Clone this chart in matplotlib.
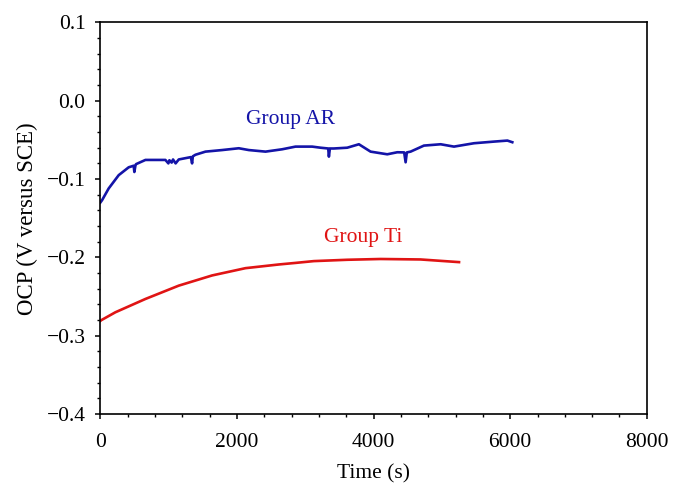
import matplotlib
matplotlib.use("Agg")
import matplotlib.pyplot as plt
from matplotlib.ticker import MultipleLocator, FuncFormatter

# Group AR (blue)
ar_time = [0, 25, 122, 269, 415, 488, 498, 513, 522, 660, 952, 996, 1011, 1044, 1064,
           1102, 1148, 1325, 1343, 1354, 1392, 1539, 1782, 2027, 2174, 2418, 2662,
           2857, 3101, 3223, 3336, 3346, 3360, 3418, 3614, 3785, 3956, 4200, 4347,
           4448, 4469, 4487, 4542, 4737, 4982, 5177, 5470, 5763, 5959, 6031]
ar_ocp = [-0.130, -0.127, -0.112, -0.095, -0.085, -0.083, -0.091, -0.083, -0.081,
          -0.0756, -0.0756, -0.080, -0.076, -0.079, -0.075, -0.080, -0.075, -0.072,
          -0.080, -0.071, -0.069, -0.065, -0.063, -0.0607, -0.063, -0.065, -0.062,
          -0.0586, -0.0586, -0.060, -0.061, -0.0714, -0.061, -0.061, -0.060, -0.0556,
          -0.065, -0.0684, -0.0658, -0.066, -0.0786, -0.066, -0.065, -0.0573, -0.0556,
          -0.0586, -0.0543, -0.0522, -0.0509, -0.053]

# Group Ti (red)
ti_time = [0, 15, 220, 660, 1148, 1636, 2125, 2613, 2857, 3125, 3614, 4102, 4688, 5251]
ti_ocp = [-0.281, -0.280, -0.270, -0.253, -0.236, -0.223, -0.2137, -0.209, -0.207,
          -0.2047, -0.203, -0.202, -0.2026, -0.206]

plt.rcParams['font.family'] = ['Liberation Serif', 'DejaVu Serif']
plt.rcParams['font.size'] = 15.5

fig = plt.figure(figsize=(6.78, 4.96), dpi=100)
ax = fig.add_axes([0.148, 0.165, 0.806, 0.790])

ax.plot(ar_time, ar_ocp, color='#1414a8', linewidth=1.9)
ax.plot(ti_time, ti_ocp, color='#e01414', linewidth=1.9)

ax.text(2785, -0.0244, 'Group AR', color='#1414a8', ha='center', va='center')
ax.text(3853, -0.174, 'Group Ti', color='#e01414', ha='center', va='center')

ax.set_xlim(0, 8000)
ax.set_ylim(-0.4, 0.1)
ax.xaxis.set_major_locator(MultipleLocator(2000))
ax.xaxis.set_minor_locator(MultipleLocator(400))
ax.yaxis.set_major_locator(MultipleLocator(0.1))
ax.yaxis.set_minor_locator(MultipleLocator(0.02))
ax.yaxis.set_major_formatter(FuncFormatter(lambda v, p: f'{v:.1f}'.replace('-', '\u2212')))
ax.tick_params(which='major', direction='out', length=3.6, width=1.1, pad=7)
ax.tick_params(axis='x', which='major', pad=10)
ax.tick_params(which='minor', direction='out', length=2.2, width=1.0)
ax.tick_params(top=False, right=False, which='both')
for s in ax.spines.values():
    s.set_linewidth(1.2)

ax.set_xlabel('Time (s)', labelpad=9)
ax.set_ylabel('OCP (V versus SCE)', labelpad=6, fontsize=16.5)

fig.savefig('out.png', dpi=100)
